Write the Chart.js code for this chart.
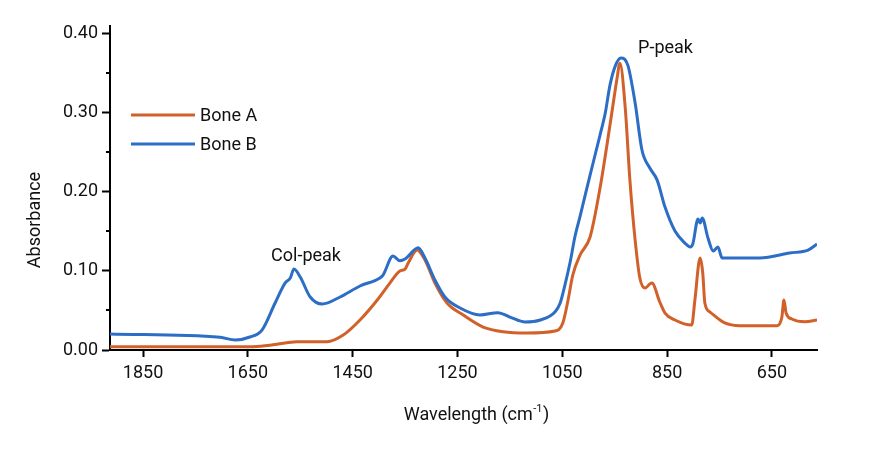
<!DOCTYPE html>
<html>
<head>
<meta charset="utf-8">
<script src="https://cdn.jsdelivr.net/npm/chart.js@4.4.0/dist/chart.umd.min.js"></script>
<style>
  html, body { margin: 0; padding: 0; background: #fff; }
  canvas { display: block; }
</style>
</head>
<body>
<canvas id="myChart" width="881" height="450"></canvas>
<script>
// Bone A spectrum (wavenumber, absorbance)
const wavenumberA = [1913, 1780, 1646, 1617, 1579, 1556, 1499, 1468, 1436, 1403, 1379, 1360, 1350, 1344, 1327, 1312, 1293, 1270, 1239, 1201, 1163, 1117, 1064, 1049, 1039, 1030, 1016, 997, 978, 959, 946, 940, 930, 921, 911, 902, 892, 883, 879, 864, 854, 835, 803, 797, 787, 782, 778, 768, 740, 711, 640, 631, 627, 623, 612, 587, 564];
const absorbanceA = [0.0042, 0.0042, 0.0042, 0.0054, 0.0088, 0.0105, 0.0105, 0.0189, 0.0379, 0.0631, 0.0845, 0.0997, 0.1022, 0.1098, 0.1262, 0.1136, 0.0845, 0.0593, 0.0442, 0.0290, 0.0231, 0.0215, 0.0240, 0.0341, 0.0631, 0.0946, 0.1199, 0.1426, 0.2044, 0.2839, 0.3407, 0.3621, 0.3066, 0.2145, 0.1388, 0.0909, 0.0782, 0.0833, 0.0845, 0.0606, 0.0467, 0.0379, 0.0315, 0.0631, 0.1161, 0.0972, 0.0593, 0.0479, 0.0341, 0.0307, 0.0307, 0.0416, 0.0631, 0.0467, 0.0391, 0.0357, 0.0379];

// Bone B spectrum
const wavenumberB = [1913, 1703, 1674, 1646, 1623, 1598, 1579, 1569, 1562, 1550, 1531, 1508, 1474, 1436, 1398, 1392, 1373, 1360, 1350, 1325, 1312, 1293, 1274, 1245, 1207, 1173, 1150, 1121, 1092, 1064, 1054, 1045, 1035, 1026, 1016, 997, 978, 968, 959, 949, 938, 925, 911, 898, 883, 869, 854, 835, 816, 806, 801, 791, 787, 783, 772, 762, 753, 745, 673, 616, 581, 564];
const absorbanceB = [0.0202, 0.0160, 0.0126, 0.0164, 0.0252, 0.0593, 0.0845, 0.0909, 0.1022, 0.0921, 0.0669, 0.0580, 0.0669, 0.0808, 0.0909, 0.0946, 0.1186, 0.1127, 0.1148, 0.1291, 0.1161, 0.0883, 0.0669, 0.0530, 0.0442, 0.0471, 0.0416, 0.0353, 0.0379, 0.0480, 0.0593, 0.0820, 0.1110, 0.1426, 0.1691, 0.2208, 0.2713, 0.2991, 0.3344, 0.3584, 0.3685, 0.3596, 0.3117, 0.2524, 0.2297, 0.2145, 0.1804, 0.1502, 0.1350, 0.1300, 0.1338, 0.1653, 0.1603, 0.1666, 0.1413, 0.1249, 0.1300, 0.1161, 0.1161, 0.1224, 0.1262, 0.1338];

const seriesNames = ['Bone A', 'Bone B'];
const seriesColors = ['#D2602A', '#2C6DC6'];

const xTicks = [1850, 1650, 1450, 1250, 1050, 850, 650];
const yTicks = [0, 0.10, 0.20, 0.30, 0.40];
const yMinorTicks = [0.05, 0.15, 0.25, 0.35];

const annotations = [
    { text: 'Col-peak', x: 1539, y: 0.1186 },
    { text: 'P-peak', x: 853, y: 0.380 }
];

const textColor = '#111';
const fontFamily = 'Roboto, "Noto Sans", sans-serif';

function toPoints(xs, ys) {
    return xs.map((x, i) => ({ x: x, y: ys[i] }));
}

// minor ticks, legend, labels and axis titles
const extrasPlugin = {
    id: 'extras',
    afterDraw(chart) {
        const ctx = chart.ctx;
        const xs = chart.scales.x;
        const ys = chart.scales.y;
        const area = chart.chartArea;
        ctx.save();

        // minor ticks on y
        ctx.strokeStyle = '#000';
        ctx.lineWidth = 2;
        yMinorTicks.forEach(v => {
            const py = Math.round(ys.getPixelForValue(v));
            ctx.beginPath();
            ctx.moveTo(area.left - 4, py);
            ctx.lineTo(area.left, py);
            ctx.stroke();
        });

        // peak labels
        ctx.font = '18px ' + fontFamily;
        ctx.fillStyle = textColor;
        ctx.textAlign = 'center';
        ctx.textBaseline = 'middle';
        annotations.forEach(a => {
            ctx.fillText(a.text, xs.getPixelForValue(a.x), ys.getPixelForValue(a.y));
        });

        // legend
        const lx = area.left + 21;
        const ly = area.top + 89;
        chart.data.datasets.forEach((ds, i) => {
            const y = ly + i * 29;
            ctx.strokeStyle = ds.borderColor;
            ctx.lineWidth = 3;
            ctx.beginPath();
            ctx.moveTo(lx, y);
            ctx.lineTo(lx + 64, y);
            ctx.stroke();
            ctx.textAlign = 'left';
            ctx.fillText(ds.label, lx + 69, y + 1);
        });

        // y title
        ctx.save();
        ctx.translate(35, 220);
        ctx.rotate(-Math.PI / 2);
        ctx.textAlign = 'center';
        ctx.fillText('Absorbance', 0, 0);
        ctx.restore();

        // x title with superscript
        const main = 'Wavelength (cm';
        const sup = '-1';
        const close = ')';
        ctx.font = '18px ' + fontFamily;
        const w1 = ctx.measureText(main).width;
        const w3 = ctx.measureText(close).width;
        ctx.font = '11px ' + fontFamily;
        const w2 = ctx.measureText(sup).width;
        let tx = 476 - (w1 + w2 + w3) / 2;
        const ty = 415;
        ctx.textAlign = 'left';
        ctx.font = '18px ' + fontFamily;
        ctx.fillText(main, tx, ty);
        tx += w1;
        ctx.font = '11px ' + fontFamily;
        ctx.fillText(sup, tx + 0.5, ty - 6);
        tx += w2 + 1;
        ctx.font = '18px ' + fontFamily;
        ctx.fillText(close, tx, ty);

        ctx.restore();
    }
};

const ctx = document.getElementById('myChart').getContext('2d');
const myChart = new Chart(ctx, {
    type: 'line',
    data: {
        datasets: [
            {
                label: seriesNames[0],
                data: toPoints(wavenumberA, absorbanceA),
                borderColor: seriesColors[0],
                backgroundColor: seriesColors[0],
                borderWidth: 3,
                pointRadius: 0,
                cubicInterpolationMode: 'monotone',
                order: 1
            },
            {
                label: seriesNames[1],
                data: toPoints(wavenumberB, absorbanceB),
                borderColor: seriesColors[1],
                backgroundColor: seriesColors[1],
                borderWidth: 3,
                pointRadius: 0,
                cubicInterpolationMode: 'monotone',
                order: 0
            }
        ]
    },
    options: {
        responsive: false,
        animation: false,
        layout: { padding: { top: 26, right: 64, left: 0, bottom: 0 } },
        plugins: {
            legend: { display: false },
            tooltip: { enabled: false }
        },
        scales: {
            x: {
                type: 'linear',
                reverse: true,
                min: 564,
                max: 1913,
                afterBuildTicks: s => { s.ticks = xTicks.map(v => ({ value: v })); },
                afterFit: s => { s.height = 100; },
                border: { display: true, color: '#000', width: 2 },
                grid: { drawOnChartArea: false, drawTicks: true, tickLength: 7, tickWidth: 2, tickColor: '#000' },
                ticks: {
                    font: { family: fontFamily, size: 18 },
                    color: textColor,
                    padding: 6,
                    maxRotation: 0,
                    autoSkip: false,
                    callback: v => String(v)
                }
            },
            y: {
                type: 'linear',
                min: 0,
                max: 0.409,
                afterBuildTicks: s => { s.ticks = yTicks.map(v => ({ value: v })); },
                afterFit: s => { s.width = 110; },
                border: { display: true, color: '#000', width: 2 },
                grid: { drawOnChartArea: false, drawTicks: true, tickLength: 8, tickWidth: 2, tickColor: '#000' },
                ticks: {
                    font: { family: fontFamily, size: 18 },
                    color: textColor,
                    padding: 4,
                    callback: v => v.toFixed(2)
                }
            }
        }
    },
    plugins: [extrasPlugin]
});
</script>
</body>
</html>
